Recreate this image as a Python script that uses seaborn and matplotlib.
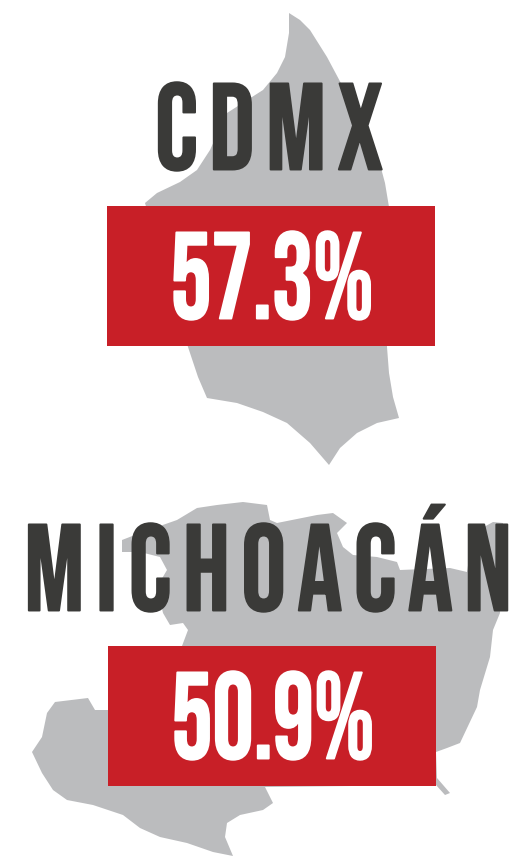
import matplotlib
matplotlib.use("Agg")
import matplotlib.pyplot as plt
import matplotlib.patheffects as pe
from matplotlib.transforms import Affine2D
import seaborn as sns

# state outlines, in image pixels
cdmx_x = [289, 300, 310, 327, 343, 363, 378, 385, 389, 387, 389, 393, 399, 377, 357, 340, 329, 310, 287, 263, 237,
          207, 198, 188, 145, 157, 180, 197, 210, 227, 263, 277, 285, 289]
cdmx_y = [13, 20, 30, 57, 87, 123, 157, 183, 207, 347, 373, 397, 418, 423, 433, 448, 465, 443, 423, 412, 403,
          398, 377, 347, 203, 193, 182, 170, 150, 113, 90, 73, 57, 33]
mich_x = [122, 140, 177, 197, 217, 243, 267, 270, 277, 317, 333, 347, 337, 343, 353, 377, 397, 400, 450, 467,
          473, 493, 503, 500, 493, 490, 480, 477, 460, 447, 436, 437, 450, 445, 436, 265, 273, 263, 240, 227,
          225, 233, 213, 187, 160, 140, 123, 93, 67, 53, 42, 32, 42, 47, 55, 88, 95, 108, 182, 188, 183, 170,
          163, 157, 167, 160, 140, 122]
mich_y = [540, 533, 520, 508, 505, 502, 505, 520, 523, 515, 513, 523, 533, 547, 555, 557, 562, 570, 568, 572,
          533, 522, 523, 613, 630, 657, 690, 707, 743, 748, 752, 778, 793, 795, 785, 787, 803, 810, 815, 823,
          837, 856, 852, 843, 837, 828, 815, 805, 800, 790, 773, 752, 737, 713, 702, 698, 710, 710, 646, 630,
          623, 625, 613, 587, 570, 557, 552, 552]

states = ["CDMX", "MICHOACÁN"]
percents = ["57.3%", "50.9%"]
box_lefts = [107, 108]
box_widths = [328, 328]
box_centers = [276, 716]
name_baselines = [169.5, 610.5]
name_centers = [269, 268]
pct_baselines = [318.5, 758.5]
pct_centers = [272, 273]

GRAY = "#bbbcbe"
RED = "#c81f27"
DARK = "#3a3a38"
HAIR = "\u200a"


class TallText(pe.AbstractPathEffect):
    # the picture's lettering is narrower than any font here, so stretch it upward from
    # the baseline and thicken the strokes a little
    def __init__(self, factor, bold):
        super().__init__()
        self.factor = factor
        self.bold = bold

    def draw_path(self, renderer, gc, tpath, affine, rgbFace=None):
        base = affine.get_matrix()[1, 2]
        stretch = Affine2D().translate(0, -base).scale(1, self.factor).translate(0, base)
        gc0 = renderer.new_gc()
        gc0.copy_properties(gc)
        gc0.set_linewidth(self.bold)
        gc0.set_foreground(rgbFace)
        renderer.draw_path(gc0, tpath, affine + stretch, rgbFace)
        gc0.restore()


sns.set_theme(style="white")
plt.rcParams["font.family"] = ["Bebas Neue", "Roboto", "DejaVu Sans"]

fig = plt.figure(figsize=(5.15, 8.56), dpi=100)
ax = fig.add_axes([0, 0, 1, 1])

ax.fill(cdmx_x, cdmx_y, color=GRAY, lw=0)
ax.fill(mich_x, mich_y, color=GRAY, lw=0)

# red boxes
ax.barh(box_centers, box_widths, left=box_lefts, height=140, color=RED, edgecolor="none", zorder=2)

for i in range(2):
    ax.text(name_centers[i], name_baselines[i], HAIR.join(states[i]), color=DARK, fontsize=80.5,
            ha="center", va="baseline", zorder=3, path_effects=[TallText(88.5 / 80.5, 1.4)])
    ax.text(pct_centers[i], pct_baselines[i], percents[i], color="white", fontsize=74,
            ha="center", va="baseline", zorder=3, path_effects=[TallText(88.5 / 74, 1.4)])

ax.set_xlim(0, 515)
ax.set_ylim(856, 0)
ax.axis("off")

fig.savefig("out.png", dpi=100)
